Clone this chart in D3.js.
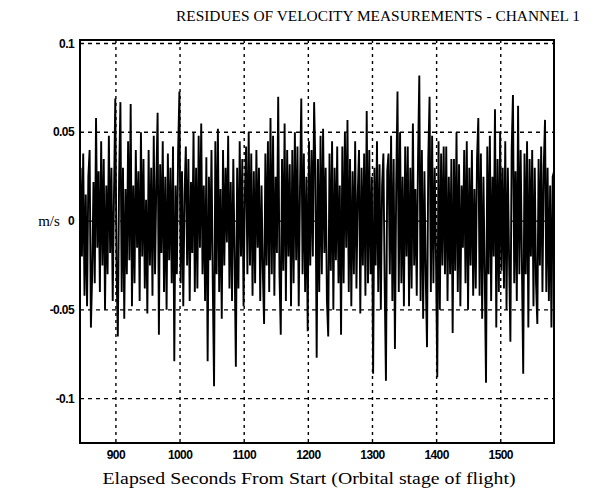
<!DOCTYPE html>
<html>
<head>
<meta charset="utf-8">
<script src="https://cdn.jsdelivr.net/npm/d3@7"></script>
<style>
  body { margin: 0; background: #fff; }
  svg { display: block; }
</style>
</head>
<body>
<div id="chart"></div>
<script>
// Residues of velocity measurements, channel 1
// samples every 2 s, values read off the plot (m/s)
const startTime = 845;
const timeStep = 2;
const residues = [
  0.030, -0.020, 0.038, -0.042, 0.015, -0.048, 0.025, 0.040, -0.060, -0.030, 0.022, -0.035, 0.058, -0.015, 0.028,
  -0.040, 0.045, -0.025, 0.035, -0.050, 0.020, -0.030, 0.048, -0.018, 0.030, -0.045, 0.015, 0.069, -0.028, -0.065,
  0.025, 0.067, -0.040, 0.030, -0.055, 0.018, -0.030, 0.045, -0.022, 0.066, -0.048, 0.020, -0.035, 0.040, -0.015,
  0.028, -0.045, 0.050, -0.020, 0.035, -0.038, 0.012, -0.052, 0.040, -0.025, 0.030, -0.042, 0.048, -0.030, 0.022,
  0.061, -0.064, 0.032, -0.018, 0.045, -0.040, 0.025, -0.050, 0.038, -0.022, 0.030, -0.035, 0.042, -0.079, 0.020,
  -0.030, 0.040, 0.073, -0.035, 0.028, -0.048, 0.015, 0.042, -0.025, 0.035, -0.045, 0.022, -0.018, 0.050, -0.040,
  0.030, -0.038, 0.048, -0.015, 0.055, -0.030, 0.020, -0.045, 0.036, -0.079, 0.025, -0.022, 0.040, -0.035, -0.093,
  0.045, -0.030, 0.052, -0.040, 0.018, -0.055, 0.040, -0.025, 0.030, -0.012, 0.048, -0.038, 0.022, -0.045, 0.035,
  -0.020, -0.082, 0.030, -0.038, 0.045, -0.020, 0.035, -0.048, 0.015, 0.042, -0.030, 0.050, -0.025, 0.038, -0.042,
  0.028, -0.035, 0.040, -0.015, 0.030, -0.045, 0.020, -0.028, -0.058, 0.038, -0.025, 0.045, -0.040, 0.058, -0.030,
  0.048, -0.042, 0.025, -0.018, 0.070, -0.030, -0.064, 0.035, -0.028, 0.055, -0.045, 0.040, -0.020, 0.032, -0.048,
  0.040, -0.035, 0.050, -0.022, 0.042, -0.048, 0.018, 0.069, -0.030, 0.038, -0.040, 0.025, -0.062, 0.045, -0.025,
  0.040, -0.020, 0.067, 0.030, -0.077, 0.035, -0.040, 0.048, -0.030, 0.052, -0.018, 0.030, -0.045, -0.065, 0.038,
  -0.028, 0.045, -0.050, 0.030, -0.022, 0.042, -0.035, 0.020, -0.064, 0.042, -0.035, 0.050, -0.015, 0.057, -0.040,
  0.035, -0.048, 0.028, -0.030, 0.045, -0.038, 0.015, 0.040, -0.052, 0.030, -0.025, 0.038, -0.042, 0.062, -0.035,
  0.040, -0.030, 0.025, -0.086, 0.030, -0.025, 0.045, -0.040, 0.032, -0.050, 0.020, 0.038, -0.035, -0.090, 0.028,
  0.038, -0.030, 0.048, -0.045, 0.035, -0.072, 0.020, 0.073, -0.040, 0.050, -0.035, 0.025, -0.048, 0.042, -0.020,
  0.042, -0.048, 0.030, -0.038, 0.055, -0.025, 0.018, -0.042, 0.035, 0.082, -0.045, 0.040, -0.055, 0.028, -0.030,
  -0.071, 0.035, 0.070, -0.040, 0.048, -0.035, 0.030, -0.020, -0.088, 0.045, -0.050, 0.038, -0.025, 0.042, -0.030,
  0.042, -0.045, 0.025, -0.030, 0.035, -0.063, 0.035, -0.028, 0.050, -0.040, 0.032, -0.048, 0.020, -0.015, 0.040,
  -0.035, 0.045, -0.050, 0.030, -0.025, 0.040, -0.042, 0.018, -0.038, 0.035, 0.058, -0.042, 0.038, -0.055, 0.025,
  -0.030, -0.091, 0.042, -0.030, 0.048, -0.045, 0.025, -0.020, 0.063, -0.060, 0.035, -0.040, 0.050, -0.028, 0.030,
  -0.038, 0.045, -0.050, 0.030, -0.022, -0.068, 0.040, 0.071, -0.035, 0.028, -0.045, 0.065, -0.030, 0.040, -0.025,
  -0.086, 0.038, -0.030, 0.045, -0.060, 0.035, -0.020, 0.040, -0.048, 0.030, -0.035, -0.058, 0.035, -0.025, 0.042,
  -0.040, 0.030, 0.057, -0.040, 0.030, -0.045, 0.020, -0.060, 0.025, 0.028
];
const xTicks = [900, 1000, 1100, 1200, 1300, 1400, 1500];
const yTicks = [0.1, 0.05, 0, -0.05, -0.1];
const yTickLabels = ['0.1', '0.05', '0', '-0.05', '-0.1'];

const width = 599, height = 489;
const margin = { top: 40, right: 45, bottom: 46, left: 80 };

const svg = d3.select('#chart')
    .append('svg')
    .attr('width', width)
    .attr('height', height);

const x = d3.scaleLinear()
    .domain([844, 1583])
    .range([margin.left, width - margin.right]);

const y = d3.scaleLinear()
    .domain([-0.125, 0.102])
    .range([height - margin.bottom, margin.top]);

const points = residues.map((v, i) => [startTime + i * timeStep, v]);

// grid
svg.append('g')
    .selectAll('line')
    .data(xTicks)
    .join('line')
    .attr('x1', d => x(d)).attr('x2', d => x(d))
    .attr('y1', margin.top).attr('y2', height - margin.bottom)
    .attr('stroke', '#000')
    .attr('stroke-width', 1.4)
    .attr('stroke-dasharray', '3,4');

svg.append('g')
    .selectAll('line')
    .data(yTicks)
    .join('line')
    .attr('x1', margin.left).attr('x2', width - margin.right)
    .attr('y1', d => y(d)).attr('y2', d => y(d))
    .attr('stroke', '#000')
    .attr('stroke-width', 1.4)
    .attr('stroke-dasharray', '4,4');

// residue trace
svg.append('path')
    .datum(points)
    .attr('fill', 'none')
    .attr('stroke', '#000')
    .attr('stroke-width', 1.9)
    .attr('stroke-linejoin', 'miter')
    .attr('stroke-miterlimit', 2)
    .attr('d', d3.line().x(d => x(d[0])).y(d => y(d[1])));

// frame
svg.append('rect')
    .attr('x', margin.left)
    .attr('y', margin.top)
    .attr('width', width - margin.left - margin.right)
    .attr('height', height - margin.top - margin.bottom)
    .attr('fill', 'none')
    .attr('stroke', '#000')
    .attr('stroke-width', 2);

// tick labels
svg.append('g')
    .selectAll('text')
    .data(xTicks)
    .join('text')
    .attr('x', d => x(d))
    .attr('y', 459)
    .attr('text-anchor', 'middle')
    .attr('font-family', 'Liberation Sans, Arial, sans-serif')
    .attr('font-size', '12px')
    .attr('font-weight', 'bold')
    .attr('letter-spacing', '-0.6px')
    .text(d => d);

svg.append('g')
    .selectAll('text')
    .data(yTicks)
    .join('text')
    .attr('x', 74)
    .attr('y', d => y(d) + 4)
    .attr('text-anchor', 'end')
    .attr('font-family', 'Liberation Sans, Arial, sans-serif')
    .attr('font-size', '12px')
    .attr('font-weight', 'bold')
    .attr('letter-spacing', '-0.6px')
    .text((d, i) => yTickLabels[i]);

// titles
svg.append('text')
    .attr('x', 378)
    .attr('y', 21)
    .attr('text-anchor', 'middle')
    .attr('font-family', 'Liberation Serif, Times New Roman, serif')
    .attr('font-size', '15px')
    .attr('textLength', 404)
    .attr('lengthAdjust', 'spacingAndGlyphs')
    .text('RESIDUES OF VELOCITY MEASUREMENTS - CHANNEL 1');

svg.append('text')
    .attr('x', 309)
    .attr('y', 484)
    .attr('text-anchor', 'middle')
    .attr('font-family', 'Liberation Serif, Times New Roman, serif')
    .attr('font-size', '17px')
    .attr('textLength', 413)
    .attr('lengthAdjust', 'spacingAndGlyphs')
    .text('Elapsed Seconds From Start (Orbital stage of flight)');

svg.append('text')
    .attr('x', 49)
    .attr('y', 226)
    .attr('text-anchor', 'middle')
    .attr('font-family', 'Liberation Serif, Times New Roman, serif')
    .attr('font-size', '15px')
    .text('m/s');
</script>
</body>
</html>
